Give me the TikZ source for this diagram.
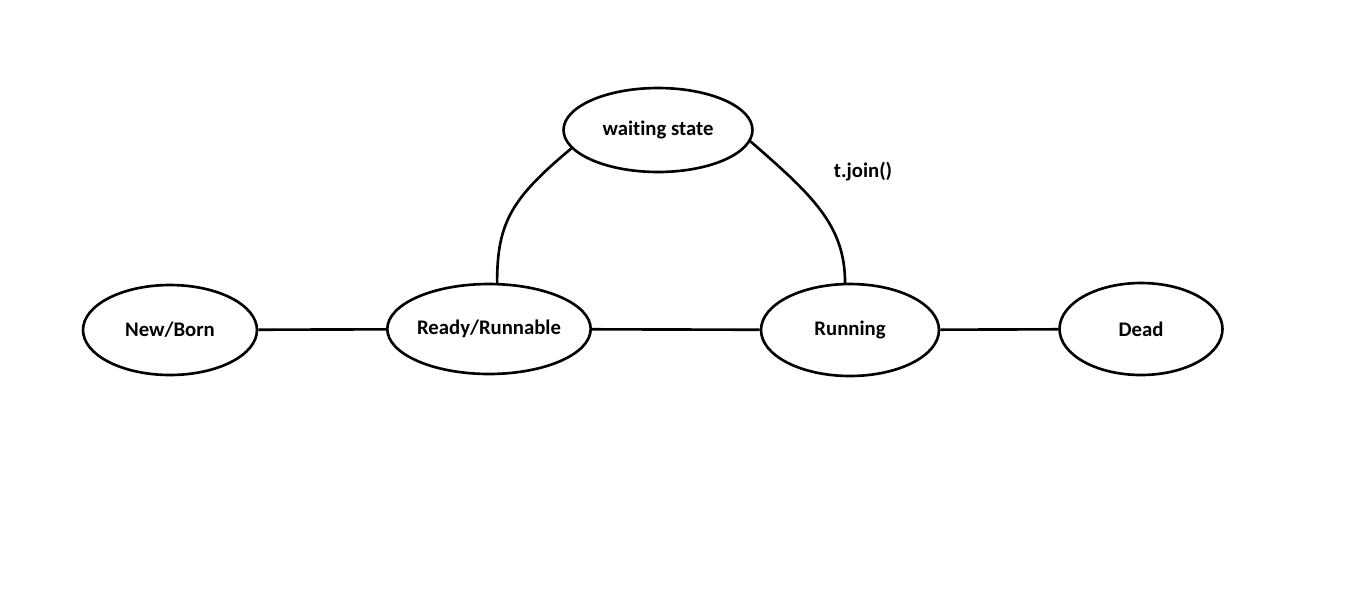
\documentclass[tikz,border=0pt]{standalone}
\usepackage{fontspec}
\setmainfont[Ligatures=NoCommon]{Carlito}
\usepackage{tikz}
\usetikzlibrary{shapes.geometric}

\tikzset{
  state/.style={ellipse, draw, line width=1.5pt, inner sep=0pt, font=\bfseries\fontsize{11.8}{14}\selectfont},
  link/.style={line width=1.5pt}
}

\begin{document}
\begin{tikzpicture}[x=0.02cm, y=-0.02cm]
        \useasboundingbox (0,0) rectangle (1360,613);

        \node (born) at (170,330) [state, minimum width=3.48cm, minimum height=1.8cm] {New/Born};
        \node (ready) at (489,329) [state, minimum width=3.92cm, minimum height=1.8cm] {Ready/Runnable};
        \node (run) at (850,330) [state, minimum width=3.56cm, minimum height=1.84cm] {Running};
        \node (dead) at (1141,329) [state, minimum width=3.26cm, minimum height=1.84cm] {Dead};
        \node (wait) at (658,130) [state, minimum width=3.78cm, minimum height=1.68cm] {waiting state};

        \node (join) at (863,172) [font=\bfseries\fontsize{11.8}{14}\selectfont] {t.join()};

        \draw[link] (born) -- (ready);
        \draw[link] (ready) -- (run);
        \draw[link] (run) -- (dead);

        \draw[link] (wait.192) .. controls (512,198) and (497,222) .. (ready.80);
        \draw[link] (wait.353) .. controls (812,195) and (845,225) .. (run.96);
    \end{tikzpicture}
\end{document}
